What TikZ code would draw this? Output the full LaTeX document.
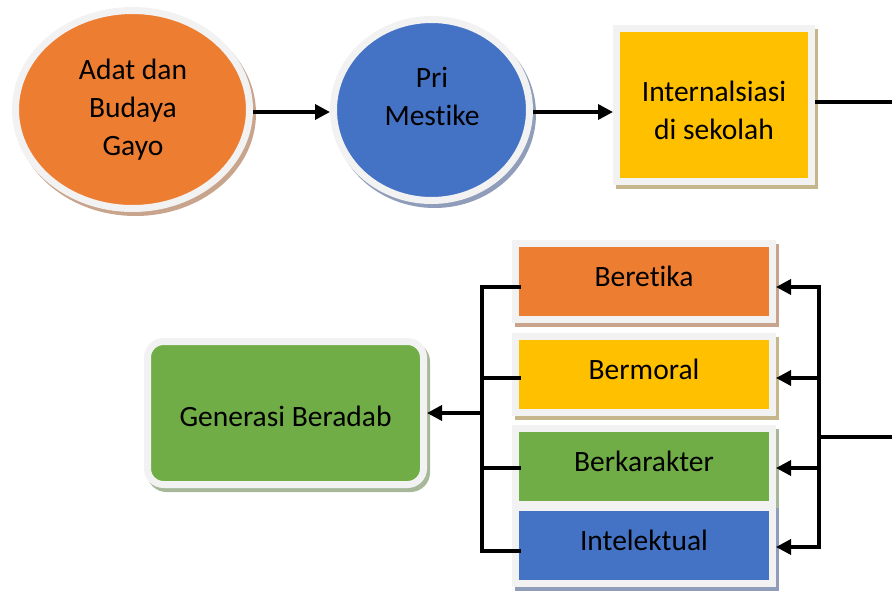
\documentclass[tikz,border=0pt]{standalone}
\usepackage{fontspec}
\setmainfont[Ligatures=NoCommon]{Carlito}
\usetikzlibrary{arrows.meta,shapes.geometric,calc}
\definecolor{cOrange}{HTML}{ED7D31}
\definecolor{cBlue}{HTML}{4472C4}
\definecolor{cYellow}{HTML}{FFC000}
\definecolor{cGreen}{HTML}{70AD47}
\definecolor{ringgrey}{HTML}{F2F2F2}
\definecolor{shOrange}{HTML}{C9A48C}
\definecolor{shBlue}{HTML}{8F9DBA}
\definecolor{shYellow}{HTML}{C6B68C}
\definecolor{shGreen}{HTML}{A7B79A}
\begin{document}
\begin{tikzpicture}[x=1pt,y=-1pt,
  every node/.style={font=\fontsize{29.5}{38}\selectfont},
  ring/.style={draw=ringgrey, line width=7pt, inner sep=0pt},
  shadowed/.style={preaction={draw=#1, fill=#1, line width=7pt, transform canvas={shift={(3pt,-4pt)}}}},
  ellnode/.style={ellipse, ring},
  boxnode/.style={rectangle, ring, minimum width=257pt, minimum height=76pt, text height=12pt, text depth=2pt},
  txt/.style={align=center, inner sep=0pt},
  ln/.style={line width=3.5pt},
  arr/.style={line width=3.5pt, -{Triangle[length=15pt,width=15pt]}}
]
\useasboundingbox (0,0) rectangle (892,592);

% top row
\node[ellnode, shadowed=shOrange, fill=cOrange, minimum width=234pt, minimum height=198pt] (e1) at (132.5,109.5) {};
\node[txt] (t1) at (133,110) {Adat dan\\Budaya\\Gayo};
\node[ellnode, shadowed=shBlue, fill=cBlue, minimum width=196pt, minimum height=181pt] (e2) at (431.5,110) {};
\node[txt] (t2) at (432,96) {Pri\\Mestike};
\node[rectangle, ring, shadowed=shYellow, fill=cYellow, minimum width=195pt, minimum height=153pt] (s1) at (714,105) {};
\node[txt] (t3) at (714,110) {Internalsiasi\\di sekolah};

% bottom
\node[rectangle, ring, rounded corners=16pt, shadowed=shGreen, fill=cGreen, minimum width=276pt, minimum height=143pt, text height=27.6pt, text depth=0pt] (g) at (285.5,413) {Generasi Beradab};
\node[boxnode, shadowed=shOrange, fill=cOrange] (b1) at (644,281.5) {Beretika};
\node[boxnode, shadowed=shYellow, fill=cYellow] (b2) at (644,374.5) {Bermoral};
\node[boxnode, shadowed=shGreen, fill=cGreen] (b3) at (644,466.5) {Berkarakter};
\node[boxnode, shadowed=shBlue, fill=cBlue] (b4) at (644,545.5) {Intelektual};

% top connectors
\coordinate (ya) at (300,112);
\draw[arr] (e1.east |- ya) -- (e2.west |- ya);
\draw[arr] (e2.east |- ya) -- (s1.west |- ya);
\coordinate (o1) at (892,102);
\draw[ln] (s1.east |- o1) -- (o1);

% right bus
\coordinate (o2) at (892,437);
\coordinate (rb) at (819,437);
\coordinate (r1) at (819,287);
\coordinate (r2) at (819,378);
\coordinate (r3) at (819,468);
\coordinate (r4) at (819,547);
\draw[ln] (o2) -- (rb);
\draw[ln, line cap=rect] (r1) -- (r4);
\draw[arr] (r1) -- (r1 -| b1.east);
\draw[arr] (r2) -- (r2 -| b2.east);
\draw[arr] (r3) -- (r3 -| b3.east);
\draw[arr] (r4) -- (r4 -| b4.east);

% left bus
\coordinate (l1) at (482,287);
\coordinate (l2) at (482,378);
\coordinate (l3) at (482,468);
\coordinate (l4) at (482,551);
\coordinate (lg) at (482,413);
\draw[ln, line cap=rect] (l1) -- (l4);
\draw[ln] (l1) -- ($(l1 -| b1.west)+(9,0)$);
\draw[ln] (l2) -- ($(l2 -| b2.west)+(9,0)$);
\draw[ln] (l3) -- ($(l3 -| b3.west)+(9,0)$);
\draw[ln] (l4) -- ($(l4 -| b4.west)+(9,0)$);
\draw[arr] (lg) -- (lg -| g.east);
\end{tikzpicture}
\end{document}
